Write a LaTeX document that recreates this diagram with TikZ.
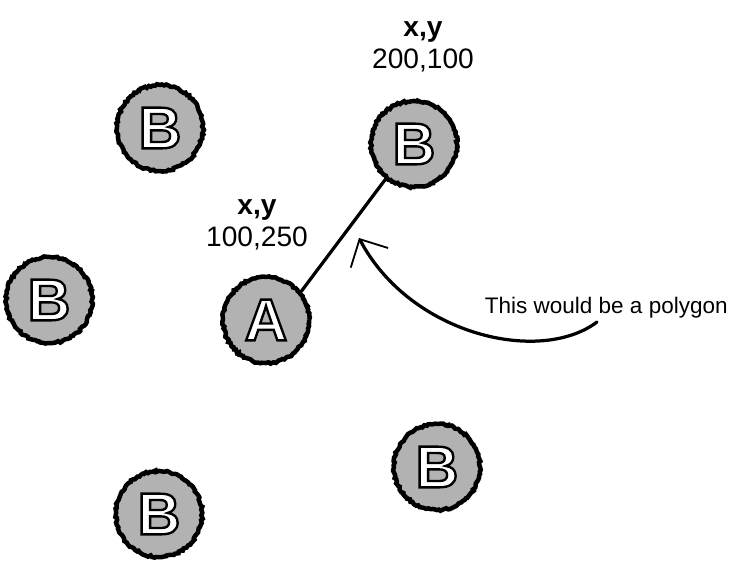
\documentclass[tikz,border=0pt]{standalone}
\usepackage{fontspec}
\setmainfont{Liberation Sans}
\newfontfamily\spotfont[FakeBold=4]{Liberation Sans Bold}
\usetikzlibrary{arrows.meta,decorations.pathmorphing}
\newcommand{\spotletter}[1]{{\special{pdf:bcolor [1] [0]}\spotfont #1\special{pdf:ecolor}}}
\begin{document}
\begin{tikzpicture}[x=0.025cm, y=-0.025cm,
    spot/.style={circle, minimum size=2.15cm, inner sep=0pt, fill=black!30,
        draw=black, line width=3.2pt, decorate,
        decoration={random steps, segment length=1.5pt, amplitude=0.7pt},
        font=\fontsize{42}{44}\selectfont},
    coord/.style={align=center, font=\fontsize{20}{23}\selectfont},
    brush/.style={line width=2.3pt, line cap=round}]
    \useasboundingbox (0, 0) rectangle (739, 565);
    \node[spot] (btl) at (160, 128) {\spotletter{B}};
    \node[spot] (btr) at (414, 144) {\spotletter{B}};
    \node[spot] (bl) at (49, 300) {\spotletter{B}};
    \node[spot] (a) at (266, 320) {\spotletter{A}};
    \node[spot] (bbr) at (437, 467) {\spotletter{B}};
    \node[spot] (bbl) at (159, 514) {\spotletter{B}};
    \node[coord] (ltr) at (423, 47) {\textbf{x,y}\\200,100};
    \node[coord] (la) at (257, 225) {\textbf{x,y}\\100,250};
    \node[anchor=base west, font=\fontsize{16}{18}\selectfont] (note) at (480, 313)
        {This would be a polygon};
    \coordinate (tail) at (597, 322);
    \draw[brush] (a.39) -- (btr.231);
    \draw[brush, -{Straight Barb[length=15pt, width=30pt, line width=1.3pt]}]
        (tail) .. controls (540, 365) and (410, 335) .. (359, 238);
\end{tikzpicture}
\end{document}
